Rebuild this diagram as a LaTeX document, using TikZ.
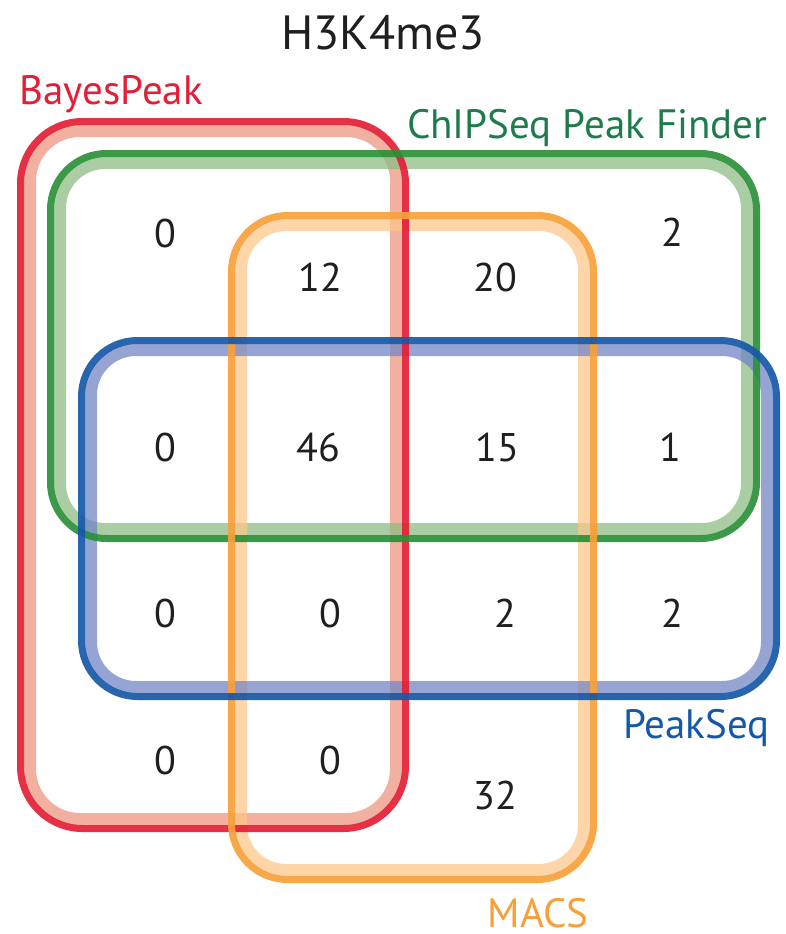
\documentclass[tikz,border=0pt]{standalone}
\usepackage{fontspec}
\setmainfont{PT Sans}
\definecolor{bpDark}{HTML}{E31E36}
\definecolor{bpLight}{HTML}{EC9580}
\definecolor{cpDark}{HTML}{2A9038}
\definecolor{cpLight}{HTML}{8DBC84}
\definecolor{cpText}{HTML}{1E7B4B}
\definecolor{mcDark}{HTML}{F7A03A}
\definecolor{mcLight}{HTML}{FCC78B}
\definecolor{psDark}{HTML}{1558A8}
\definecolor{psLight}{HTML}{7386C6}
\begin{document}
\begin{tikzpicture}[x=1pt,y=-1pt,
  edge/.style={line width=7pt, opacity=0.92},
  band/.style={line width=12pt, opacity=0.75},
  num/.style={font=\fontsize{40}{40}\selectfont, text=black!88},
  setlabel/.style={font=\fontsize{41}{41}\selectfont},
]
\useasboundingbox (0,0) rectangle (786,934);

% light inner bands of the four sets
\draw[band, draw=bpLight, rounded corners=50pt] (30,131) rectangle (396,819);
\draw[band, draw=cpLight, rounded corners=45pt] (60,163) rectangle (747,529);
\draw[band, draw=mcLight, rounded corners=45pt] (241,225) rectangle (584,870);
\draw[band, draw=psLight, rounded corners=45pt] (91,350) rectangle (767,687);

% dark outer outlines
\draw[edge, draw=bpDark, rounded corners=62pt] (20.5,121.5) rectangle (405.5,828.5);
\draw[edge, draw=cpDark, rounded corners=56pt] (50.5,153.5) rectangle (756.5,538.5);
\draw[edge, draw=mcDark, rounded corners=56pt] (231.5,215.5) rectangle (593.5,879.5);
\draw[edge, draw=psDark, rounded corners=56pt] (81.5,340.5) rectangle (776.5,696.5);

% title and set names
\node[font=\fontsize{48}{48}\selectfont, text=black!88] (title) at (383,33) {H3K4me3};
\node[setlabel, text=bpDark, anchor=west] (bayes) at (16,94) {BayesPeak};
\node[setlabel, text=cpText, anchor=east] (chip) at (771,128) {ChIPSeq Peak Finder};
\node[setlabel, text=psDark, anchor=east] (peakseq) at (773,728) {PeakSeq};
\node[setlabel, text=mcDark, anchor=center] (macs) at (538,913) {MACS};

% region counts
\node[num] (n1) at (165,233) {0};
\node[num] (n2) at (672,232) {2};
\node[num] (n3) at (320,277) {12};
\node[num] (n4) at (495,277) {20};
\node[num] (n5) at (165,447) {0};
\node[num] (n6) at (318,447) {46};
\node[num] (n7) at (497,447) {15};
\node[num] (n8) at (670,447) {1};
\node[num] (n9) at (165,613) {0};
\node[num] (n10) at (330,613) {0};
\node[num] (n11) at (505,613) {2};
\node[num] (n12) at (672,613) {2};
\node[num] (n13) at (165,760) {0};
\node[num] (n14) at (330,760) {0};
\node[num] (n15) at (495,795) {32};
\end{tikzpicture}
\end{document}
